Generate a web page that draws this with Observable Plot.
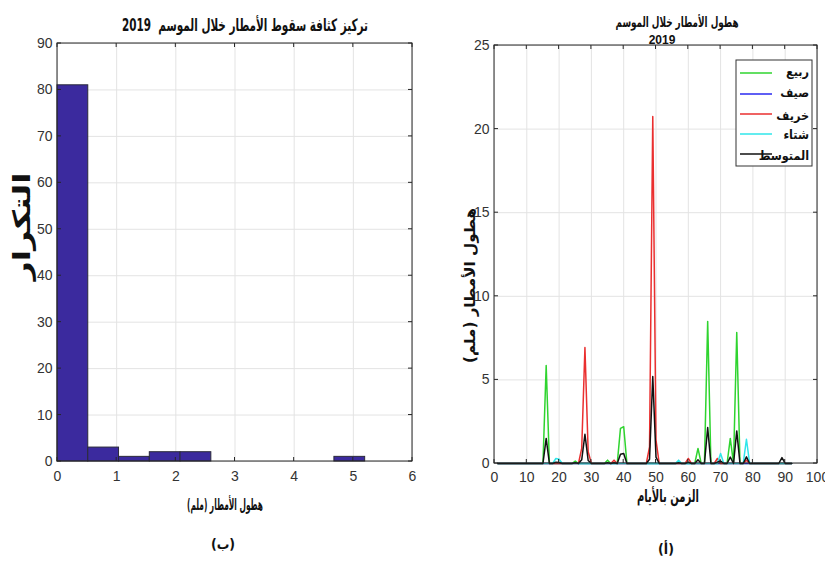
<!DOCTYPE html>
<html lang="ar">
<head>
<meta charset="utf-8">
<script src="https://cdn.jsdelivr.net/npm/d3@7"></script>
<script src="https://cdn.jsdelivr.net/npm/@observablehq/plot@0.6"></script>
<style>
  body { margin: 0; background: #fff; }
  #wrap { position: relative; width: 825px; height: 565px; display: flex; overflow: hidden;
          font-family: "Liberation Sans Narrow", "Liberation Sans", "DejaVu Sans", sans-serif; }
  #wrap svg { display: block; overflow: visible; }
</style>
</head>
<body>
<div id="wrap"></div>
<script>
// ---- Histogram: daily mean rainfall intensity, 2019 season ----
const binStart = [0, 0.52, 1.04, 1.56, 2.08, 2.60, 3.12, 3.64, 4.16, 4.68];
const binEnd   = [0.52, 1.04, 1.56, 2.08, 2.60, 3.12, 3.64, 4.16, 4.68, 5.20];
const binCount = [81, 3, 1, 2, 2, 0, 0, 0, 0, 1];
const histXTicks = [0, 1, 2, 3, 4, 5, 6];
const histYTicks = [0, 10, 20, 30, 40, 50, 60, 70, 80, 90];

// ---- Daily rainfall (mm) per season, days 1..92 ----
const spring = [
  0,0,0,0,0,0,0,0,0,0,
  0,0,0,0,0,5.86,0,0,0,0,
  0,0,0,0,0.15,0,0,0,0,0,
  0,0,0,0,0.2,0,0,0,2.1,2.2,
  0,0,0,0,0,0,0,0,0,0,
  0,0,0,0,0,0,0,0,0,0,
  0,0,0.9,0,0,8.5,0,0,0,0,
  0,0,1.5,0,7.83,0,0,0,0,0,
  0,0,0,0,0,0,0,0,0,0,
  0,0
];
const summer = [
  0,0,0,0,0,0,0,0,0,0,
  0,0,0,0,0,0,0,0,0,0,
  0,0,0,0,0,0,0,0,0,0,
  0,0,0,0,0,0,0,0,0,0,
  0,0,0,0,0,0,0,0,0,0,
  0,0,0,0,0,0,0,0,0,0,
  0,0,0,0,0,0,0,0,0,0,
  0,0,0,0,0,0,0,0,0,0,
  0,0,0,0,0,0,0,0,0,0,
  0,0
];
const autumn = [
  0,0,0,0,0,0,0,0,0,0,
  0,0,0,0,0,0,0,0,0,0,
  0,0,0,0,0,0,0.9,6.94,0.7,0,
  0,0,0,0,0,0,0.2,0,0,0,
  0,0,0,0,0,0,0,1.0,20.75,1.4,
  0,0,0,0,0,0,0,0,0,0.3,
  0,0,0,0,0,0,0,0,0.3,0,
  0,0,0,0,0,0,0,0.2,0,0,
  0,0,0,0,0,0,0,0,0,0,
  0,0
];
const winter = [
  0,0,0,0,0,0,0,0,0,0,
  0,0,0,0,0,0,0,0,0.3,0.25,
  0,0,0,0,0,0,0,0,0,0,
  0,0,0,0,0,0,0,0,0,0,
  0,0,0,0,0,0,0,0,0,0,
  0,0,0,0,0,0,0.2,0,0,0,
  0,0,0,0,0,0,0,0,0,0.6,
  0,0,0,0,0,0,0,1.45,0,0,
  0,0,0,0,0,0,0,0,0,0,
  0,0
];
const seasonMean = [
  0,0,0,0,0,0,0,0,0,0,
  0,0,0,0,0,1.5,0,0,0.08,0.06,
  0,0,0,0,0.04,0,0.22,1.75,0.18,0,
  0,0,0,0,0.05,0,0.05,0,0.55,0.6,
  0,0,0,0,0,0,0,0.25,5.2,0.38,
  0,0,0,0,0,0,0.05,0,0,0.08,
  0,0,0.22,0,0,2.15,0,0,0.08,0.15,
  0,0,0.38,0,1.95,0,0,0.4,0,0,
  0,0,0,0,0,0,0,0,0.35,0,
  0,0
];
const seriesNames  = ["ربيع", "صيف", "خريف", "شتاء", "المتوسط"];
const seriesColors = ["#2fd42f", "#2a2af0", "#ea2f2f", "#2fe6ea", "#111111"];
const seriesValues = [spring, summer, autumn, winter, seasonMean];
const lineXTicks = [0, 10, 20, 30, 40, 50, 60, 70, 80, 90, 100];
const lineYTicks = [0, 5, 10, 15, 20, 25];

// ---- Text ----
const histTitle  = "تركيز كثافة سقوط الأمطار خلال الموسم  2019";
const histYLabel = "التكرار";
const rainLabel  = "هطول الأمطار (ملم)";
const histTag    = "(ب)";
const lineTitle  = "هطول الأمطار خلال الموسم";
const lineYear   = "2019";
const timeLabel  = "الزمن بالأيام";
const lineTag    = "(أ)";

const bins = binStart.map((s, i) => ({start: s, end: binEnd[i], count: binCount[i]}));
const daily = seriesValues.map(vals => vals.map((v, i) => ({day: i + 1, value: v})));

// Arabic strings are wrapped in a right-to-left isolate
const rtl = s => "\u2067" + s + "\u2069";
const arFont = "'DejaVu Sans Condensed', 'DejaVu Sans', sans-serif";

// Boxed axes with inward tick marks on all four sides
function boxFrame(xTicks, yTicks, len = 4) {
  return (index, scales, values, dims) => {
    const {x, y} = scales;
    const L = dims.marginLeft, R = dims.width - dims.marginRight;
    const T = dims.marginTop, B = dims.height - dims.marginBottom;
    const g = d3.create("svg:g").attr("fill", "none").attr("stroke", "#262626").attr("stroke-width", 1);
    for (const t of xTicks) {
      const px = x(t);
      g.append("line").attr("x1", px).attr("x2", px).attr("y1", B).attr("y2", B - len);
      g.append("line").attr("x1", px).attr("x2", px).attr("y1", T).attr("y2", T + len);
    }
    for (const t of yTicks) {
      const py = y(t);
      g.append("line").attr("x1", L).attr("x2", L + len).attr("y1", py).attr("y2", py);
      g.append("line").attr("x1", R).attr("x2", R - len).attr("y1", py).attr("y2", py);
    }
    g.append("rect").attr("x", L).attr("y", T).attr("width", R - L).attr("height", B - T);
    return g.node();
  };
}

// Legend box pinned inside the top-right corner of the frame
function legendBox(names, colors) {
  const w = 76, h = 106, inRight = 5, inTop = 15;
  const lineY = [13, 34, 54, 74, 94];
  const textY = [12, 33, 56, 75, 96];
  return (index, scales, values, dims) => {
    const x0 = dims.width - dims.marginRight - inRight - w;
    const y0 = dims.marginTop + inTop;
    const g = d3.create("svg:g");
    g.append("rect").attr("x", x0).attr("y", y0).attr("width", w).attr("height", h)
      .attr("fill", "#fff").attr("stroke", "#333").attr("stroke-width", 1);
    names.forEach((name, k) => {
      g.append("line").attr("x1", x0 + 4).attr("x2", x0 + 36)
        .attr("y1", y0 + lineY[k]).attr("y2", y0 + lineY[k])
        .attr("stroke", colors[k]).attr("stroke-width", 1.5);
      g.append("text").attr("x", x0 + w - 3).attr("y", y0 + textY[k])
        .attr("text-anchor", "end").attr("dy", "0.35em")
        .attr("font-family", arFont).attr("font-weight", "bold").attr("font-size", 12.5)
        .attr("fill", "#111").text(name);
    });
    return g.node();
  };
}

// Squeeze a rendered label to a set width (narrow, tall lettering)
function fitText(svg, str, len) {
  d3.select(svg).selectAll("text")
    .filter(function() { return this.textContent === str; })
    .attr("textLength", len).attr("lengthAdjust", "spacingAndGlyphs");
}

const baseStyle = {fontFamily: "'Liberation Sans Narrow', 'Liberation Sans', 'DejaVu Sans', sans-serif",
                   fontSize: "14px", color: "#333", background: "#fff", overflow: "visible"};
const label = {fontWeight: "bold", fontFamily: arFont, fill: "#111", textAnchor: "middle", text: d => d};

// ---- Left panel: histogram ----
const hist = Plot.plot({
  width: 440, height: 565,
  marginLeft: 57, marginRight: 28, marginTop: 43, marginBottom: 104,
  style: baseStyle,
  x: {domain: [0, 6]},
  y: {domain: [0, 90]},
  marks: [
    Plot.gridX(histXTicks, {stroke: "#e3e3e3", strokeOpacity: 1}),
    Plot.gridY(histYTicks, {stroke: "#e3e3e3", strokeOpacity: 1}),
    Plot.rectY(bins, {x1: "start", x2: "end", y: "count", fill: "#3b2a9e", stroke: "#2a2a3a", strokeWidth: 1}),
    boxFrame(histXTicks, histYTicks),
    Plot.axisX(histXTicks, {tickSize: 0, tickPadding: 10, label: null}),
    Plot.axisY(histYTicks, {tickSize: 0, tickPadding: 5, label: null}),
    Plot.text([rtl(histTitle)],  {...label, frameAnchor: "top", dx: 10, dy: -25, fontSize: 17}),
    Plot.text([rtl(histYLabel)], {...label, frameAnchor: "left", dx: -35, dy: -26, rotate: -90, fontSize: 24}),
    Plot.text([rtl(rainLabel)],  {...label, frameAnchor: "bottom", dx: -10, dy: 48, fontSize: 16}),
    Plot.text([rtl(histTag)],    {...label, frameAnchor: "bottom", dx: -12, dy: 87, fontSize: 14})
  ]
});
fitText(hist, rtl(histTitle), 246);
fitText(hist, rtl(histYLabel), 108);
fitText(hist, rtl(rainLabel), 76);

// ---- Right panel: daily rainfall by season ----
const lines = Plot.plot({
  width: 385, height: 565,
  marginLeft: 54, marginRight: 8, marginTop: 45, marginBottom: 102,
  style: baseStyle,
  x: {domain: [0, 100]},
  y: {domain: [0, 25]},
  marks: [
    Plot.gridX(lineXTicks, {stroke: "#e3e3e3", strokeOpacity: 1}),
    Plot.gridY(lineYTicks, {stroke: "#e3e3e3", strokeOpacity: 1}),
    ...daily.map((rows, k) => Plot.line(rows, {x: "day", y: "value", stroke: seriesColors[k], strokeWidth: 1.5})),
    boxFrame(lineXTicks, lineYTicks),
    Plot.axisX(lineXTicks, {tickSize: 0, tickPadding: 9, label: null}),
    Plot.axisY(lineYTicks, {tickSize: 0, tickPadding: 5, label: null}),
    legendBox(seriesNames, seriesColors),
    Plot.text([rtl(lineTitle)], {...label, frameAnchor: "top", dx: 21, dy: -28, fontSize: 14}),
    Plot.text([lineYear],       {...label, fontFamily: undefined, frameAnchor: "top", dx: 6, dy: -10, fontSize: 12}),
    Plot.text([rtl(rainLabel)], {...label, frameAnchor: "left", dx: -24, dy: 31, rotate: -90, fontSize: 15}),
    Plot.text([rtl(timeLabel)], {...label, frameAnchor: "bottom", dx: 12, dy: 38, fontSize: 17}),
    Plot.text([rtl(lineTag)],   {...label, frameAnchor: "bottom", dx: 10, dy: 90, fontSize: 14})
  ]
});
fitText(lines, rtl(lineTitle), 123);
fitText(lines, rtl(rainLabel), 155);
fitText(lines, rtl(timeLabel), 62);

document.getElementById("wrap").append(hist, lines);
</script>
</body>
</html>
